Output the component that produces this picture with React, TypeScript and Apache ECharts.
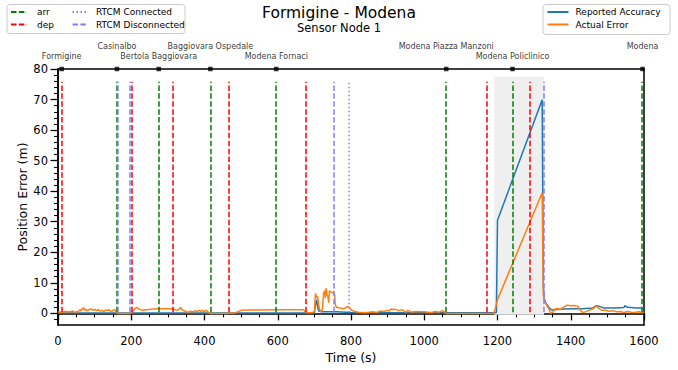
import React, { useEffect, useRef } from "react";
import * as echarts from "echarts";

// Reported Accuracy (blue)
const ACC_T = [0, 100, 200, 300, 400, 500, 600, 700, 703, 706, 709, 712, 720, 760, 800, 900, 1000, 1100, 1190, 1197, 1200, 1322, 1325, 1327, 1332, 1340, 1348, 1360, 1380, 1400, 1430, 1460, 1470, 1478, 1490, 1520, 1545, 1548, 1555, 1580, 1600];
const ACC_V = [0.1, 0.1, 0.1, 0.1, 0.1, 0.1, 0.1, 0.1, 3.0, 4.5, 2.0, 0.8, 0.5, 0.5, 0.3, 0.2, 0.2, 0.2, 0.2, 0.3, 30.5, 69.9, 10, 5.0, 3.3, 2.0, 1.1, 1.3, 1.4, 1.5, 1.5, 1.8, 2.5, 2.3, 1.8, 1.8, 1.9, 2.5, 2.0, 1.8, 1.8];

// Actual Error (orange)
const ERR_T = [0, 10, 20, 30, 40, 45, 50, 55, 60, 63, 66, 70, 73, 76, 80, 85, 90, 95, 100, 105, 110, 115, 120, 125, 130, 135, 140, 145, 150, 155, 160, 165, 180, 195, 200, 205, 210, 215, 220, 225, 230, 240, 250, 260, 275, 290, 300, 310, 320, 325, 330, 335, 338, 342, 350, 355, 360, 370, 375, 380, 385, 390, 395, 400, 405, 410, 415, 460, 470, 480, 490, 500, 520, 560, 600, 640, 670, 678, 690, 700, 703, 706, 709, 712, 715, 718, 722, 725, 728, 730, 732, 735, 737, 739, 741, 745, 750, 755, 757, 760, 770, 780, 790, 795, 800, 810, 820, 840, 860, 870, 880, 890, 900, 905, 910, 915, 920, 930, 940, 950, 955, 965, 975, 990, 1000, 1010, 1020, 1030, 1040, 1050, 1060, 1100, 1150, 1190, 1195, 1200, 1322, 1325, 1330, 1335, 1340, 1346, 1352, 1358, 1364, 1370, 1380, 1390, 1400, 1410, 1420, 1425, 1432, 1440, 1450, 1460, 1470, 1475, 1485, 1495, 1505, 1515, 1525, 1535, 1545, 1555, 1565, 1575, 1585, 1595, 1600];
const ERR_V = [0.5, 0.4, 0.6, 0.5, 0.8, 0.3, 0.6, 0.5, 1.2, 0.8, 1.5, 1.8, 1.0, 1.4, 0.8, 1.2, 1.5, 1.0, 1.3, 0.9, 1.2, 0.8, 1.0, 0.6, 1.1, 0.9, 1.2, 0.5, 1.0, 1.2, 0.3, 0.0, 0.0, 0.0, 0.1, 0.8, 1.5, 2.0, 1.6, 1.2, 1.0, 1.2, 1.3, 1.4, 1.5, 1.5, 1.5, 1.4, 1.2, 1.0, 1.3, 2.0, 1.2, 1.0, 0.6, 0.3, 0.7, 0.5, 0.9, 0.6, 1.0, 0.7, 1.0, 0.5, 1.1, 0.4, 0.0, 0.0, 0.1, 0.0, 0.5, 1.0, 1.1, 1.1, 1.2, 1.2, 1.2, 0.3, 0.2, 0.5, 6.5, 5.2, 5.5, 2.5, 1.0, 0.5, 1.5, 6.5, 7.5, 5.0, 8.2, 6.0, 5.5, 3.5, 7.4, 7.0, 6.8, 6.5, 3.0, 2.0, 1.8, 1.5, 2.2, 2.0, 1.2, 0.6, 0.4, 0.2, 0.5, 0.3, 0.8, 0.6, 1.0, 0.8, 1.5, 1.2, 1.4, 0.9, 1.2, 0.3, 1.0, 0.4, 0.6, 0.5, 0.5, 0.4, 0.3, 0.6, 0.4, 0.9, 0.0, 0.0, 0.0, 0.0, 2.0, 4.5, 39.5, 6.0, 3.5, 2.5, 1.5, 0.0, 0.5, 1.5, 1.6, 1.2, 2.0, 2.7, 2.5, 2.6, 2.3, 1.2, 0.3, 0.5, 1.0, 1.5, 2.4, 1.8, 1.0, 1.0, 0.7, 0.9, 0.5, 0.6, 0.3, 0.6, 0.4, 0.3, 0.5, 0.3, 0.4];

// Event times (s)
const ARR_TIMES = [161, 274, 416, 595, 1060, 1241, 1595];
const DEP_TIMES = [10, 200, 314, 466, 677, 1171, 1287];
const RTCM_CONNECTED = [795];
const RTCM_DISCONNECTED = [163, 196, 754, 1325];
const OUTAGE_SPAN = [1191, 1327];

// Stations (top axis)
const STATION_NAMES = ["Formigine", "Casinalbo", "Bertola Baggiovara", "Baggiovara Ospedale", "Modena Fornaci", "Modena Piazza Manzoni", "Modena Policlinico", "Modena"];
const STATION_TIMES = [10, 161, 275, 416, 596, 1060, 1241, 1596];

const Y_MAJOR = [0, 10, 20, 30, 40, 50, 60, 70, 80];
const Y_MINOR = [-2, 2, 4, 6, 8, 12, 14, 16, 18, 22, 24, 26, 28, 32, 34, 36, 38, 42, 44, 46, 48, 52, 54, 56, 58, 62, 64, 66, 68, 72, 74, 76, 78];

const FONT = "DejaVu Sans";
const DASH = [5.5, 2.4];
const DOT = [1.5, 2.5];

export default function App() {
  const ref = useRef<HTMLDivElement>(null);
  useEffect(() => {
    const chart = echarts.init(ref.current!, null, { renderer: "svg" });
    const vlines = (times: number[]) =>
      times.map((t) => [{ coord: [t, 0.4] }, { coord: [t, 75.8] }]);
    const vSeries = (name: string, times: number[], color: string, type: number[]) => ({
      name,
      type: "line",
      data: [],
      symbol: "none",
      color,
      lineStyle: { color, width: 1.5, type },
      z: 5,
      markLine: {
        silent: true,
        symbol: ["none", "none"],
        label: { show: false },
        emphasis: { disabled: true },
        lineStyle: { color, width: 1.5, type },
        data: vlines(times),
      },
    });
    const legendCommon = {
      orient: "vertical",
      top: 7.5,
      padding: 0,
      itemHeight: 10,
      itemGap: 3.5,
      selectedMode: false,
      itemStyle: { opacity: 0, color: "rgba(0,0,0,0)", borderWidth: 0 },
      textStyle: { fontSize: 9, fontFamily: FONT, color: "#000" },
    };
    const option = {
      animation: false,
      backgroundColor: "#fff",
      title: [
        {
          text: "Formigine - Modena",
          left: "center",
          top: 5,
          padding: 0,
          textStyle: { fontSize: 15.5, fontWeight: "normal", fontFamily: FONT, color: "#000" },
        },
        {
          text: "Sensor Node 1",
          left: "center",
          top: 22,
          padding: 0,
          textStyle: { fontSize: 11.5, fontWeight: "normal", fontFamily: FONT, color: "#000" },
        },
      ],
      legend: [
        { ...legendCommon, left: 10, itemWidth: 16, data: ["arr", "dep"], textStyle: { ...legendCommon.textStyle, padding: [0, 0, 0, 5] } },
        { ...legendCommon, left: 71.5, itemWidth: 14.5, data: ["RTCM Connected", "RTCM Disconnected"], textStyle: { ...legendCommon.textStyle, padding: [0, 0, 0, 4] } },
        { ...legendCommon, left: 546.5, itemWidth: 21, data: ["Reported Accuracy", "Actual Error"], textStyle: { ...legendCommon.textStyle, padding: [0, 0, 0, 2] } },
      ],
      graphic: [
        { type: "rect", z: -10, shape: { x: 7, y: 4.5, width: 178, height: 29, r: 3 }, style: { fill: "rgba(255,255,255,0.8)", stroke: "#cccccc", lineWidth: 1 } },
        { type: "rect", z: -10, shape: { x: 543, y: 4.5, width: 127, height: 30, r: 3 }, style: { fill: "rgba(255,255,255,0.8)", stroke: "#cccccc", lineWidth: 1 } },
      ],
      grid: {
        left: 58,
        right: 34,
        top: 69,
        bottom: 45,
        show: true,
        borderColor: "#000",
        borderWidth: 1.5,
        backgroundColor: "transparent",
      },
      xAxis: {
        type: "value",
        min: 0,
        max: 1600,
        interval: 200,
        name: "Time (s)",
        nameLocation: "middle",
        nameGap: 26,
        nameMoveOverlap: false,
        nameTextStyle: { fontSize: 12.5, fontFamily: FONT, color: "#000" },
        axisLine: { show: true, lineStyle: { color: "#000", width: 1.5 } },
        axisTick: { show: true, length: 7, lineStyle: { color: "#000", width: 1.3 } },
        minorTick: { show: true, splitNumber: 4, length: 4, lineStyle: { color: "#000", width: 1.1 } },
        axisLabel: { fontSize: 11.5, fontFamily: FONT, color: "#000", margin: 10, formatter: (v: number) => String(v) },
        splitLine: { show: false },
        minorSplitLine: { show: false },
      },
      yAxis: [
        {
          type: "value",
          min: -3.8,
          max: 80,
          name: "Position Error (m)",
          nameLocation: "middle",
          nameGap: 29,
          nameMoveOverlap: false,
          nameRotate: 90,
          nameTextStyle: { fontSize: 12.5, fontFamily: FONT, color: "#000" },
          axisLine: { show: true, lineStyle: { color: "#000", width: 1.5 } },
          axisTick: { show: true, customValues: Y_MAJOR, length: 7.5, lineStyle: { color: "#000", width: 1.3 } },
          axisLabel: { customValues: Y_MAJOR, fontSize: 11.5, fontFamily: FONT, color: "#000", margin: 10, formatter: (v: number) => String(v) },
          splitLine: { show: false },
        },
        {
          type: "value",
          min: -3.8,
          max: 80,
          position: "left",
          axisLine: { show: false },
          axisTick: { show: true, customValues: Y_MINOR, length: 4, lineStyle: { color: "#000", width: 1.1 } },
          axisLabel: { show: false },
          splitLine: { show: false },
        },
      ],
      series: [
        {
          name: "outage",
          type: "line",
          data: [],
          z: 1,
          markArea: {
            silent: true,
            itemStyle: { color: "#efefef" },
            data: [[{ coord: [OUTAGE_SPAN[0], -0.45] }, { coord: [OUTAGE_SPAN[1], 77.5] }]],
          },
        },
        {
          name: "Reported Accuracy",
          type: "line",
          symbol: "none",
          color: "#1f77b4",
          lineStyle: { color: "#1f77b4", width: 1.5 },
          z: 3,
          data: ACC_T.map((t, i) => [t, ACC_V[i]]),
        },
        {
          name: "Actual Error",
          type: "line",
          symbol: "none",
          color: "#ff7f0e",
          lineStyle: { color: "#ff7f0e", width: 1.5 },
          z: 4,
          data: ERR_T.map((t, i) => [t, ERR_V[i]]),
        },
        vSeries("arr", ARR_TIMES, "#008000", DASH),
        vSeries("dep", DEP_TIMES, "#ff0000", DASH),
        vSeries("RTCM Connected", RTCM_CONNECTED, "#8080ff", DOT),
        vSeries("RTCM Disconnected", RTCM_DISCONNECTED, "#8080ff", DASH),
        {
          name: "stations",
          type: "scatter",
          symbol: "rect",
          symbolSize: 4.5,
          clip: false,
          z: 10,
          itemStyle: { color: "#000" },
          data: STATION_TIMES.map((t, i) => ({
            value: [t, 80],
            name: STATION_NAMES[i],
            label: { distance: i % 2 === 1 ? 15.5 : 5 },
          })),
          label: {
            show: true,
            position: "top",
            formatter: (p: any) => p.name,
            fontSize: 8,
            lineHeight: 10,
            fontFamily: FONT,
            color: "#000",
          },
        },
      ],
    };
    chart.setOption(option as any);
    return () => chart.dispose();
  }, []);
  return (
    <div
      ref={ref}
      style={{ position: "fixed", left: 0, top: 0, width: 678, height: 370, background: "#fff" }}
    />
  );
}
